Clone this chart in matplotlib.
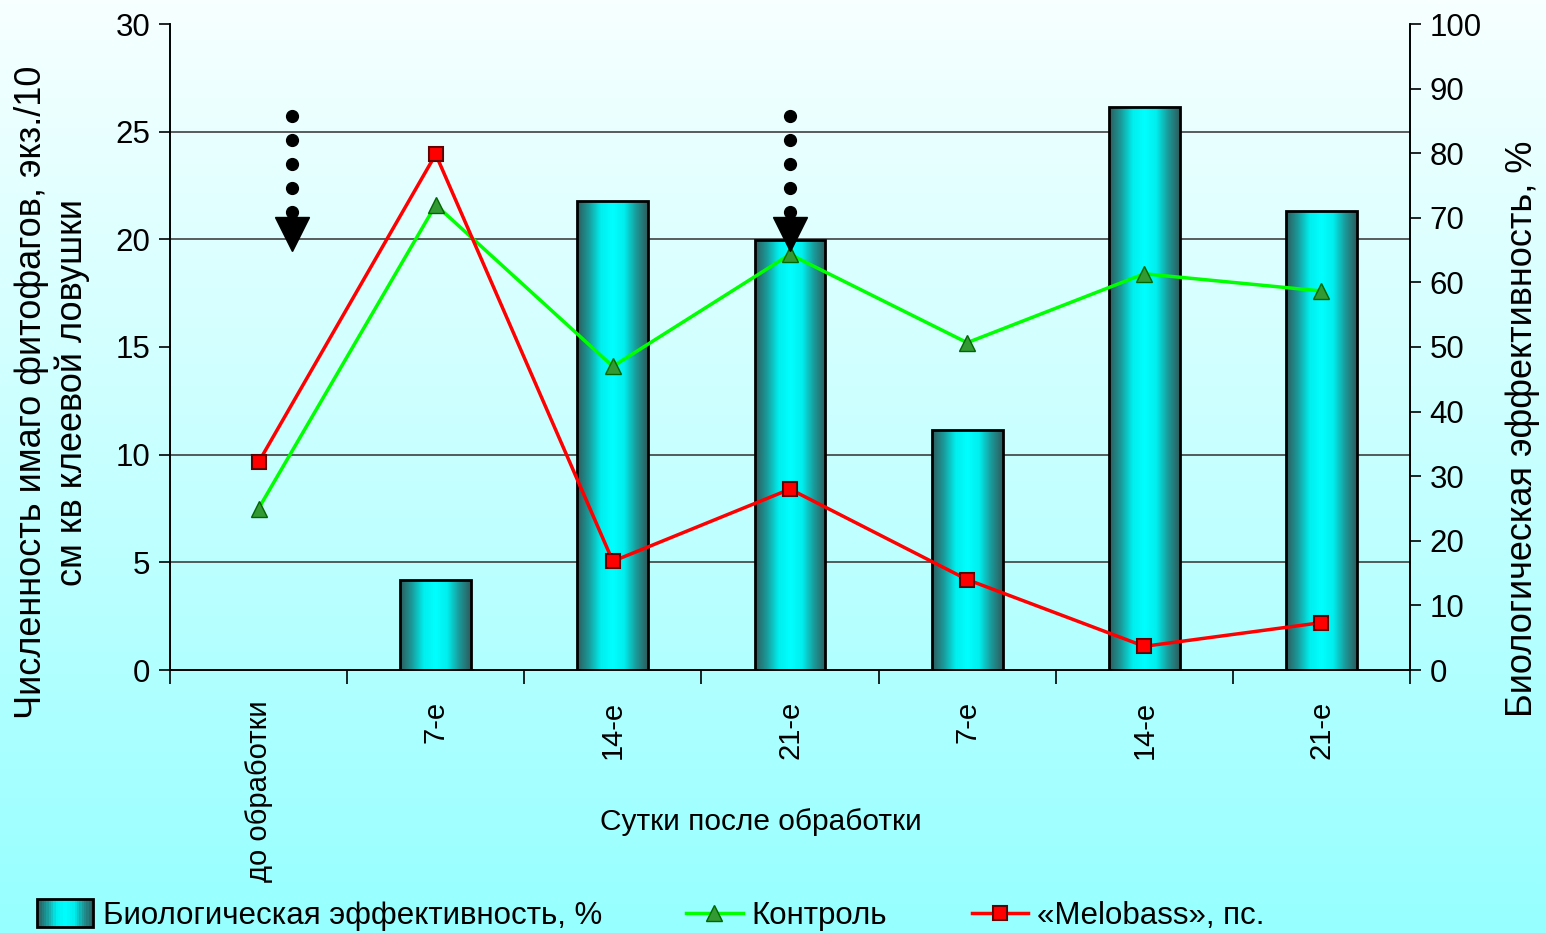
import numpy as np
import matplotlib
matplotlib.use("Agg")
import matplotlib.pyplot as plt
from matplotlib.colors import LinearSegmentedColormap
from matplotlib.ticker import MultipleLocator, FixedLocator
from matplotlib.patches import Rectangle
from matplotlib.lines import Line2D
from matplotlib.legend_handler import HandlerBase

plt.rcParams['font.family'] = ['Liberation Sans', 'DejaVu Sans']

# data
days = ['до обработки', '7-е', '14-е', '21-е', '7-е', '14-е', '21-е']
bio_eff = [0, 13.9, 72.6, 66.6, 37.2, 87.2, 71.1]        # %, right axis
control = [7.5, 21.6, 14.1, 19.3, 15.2, 18.4, 17.6]      # left axis
melobass = [9.65, 23.95, 5.05, 8.4, 4.2, 1.1, 2.2]       # left axis
# treatment arrows (x position, dot heights, head height)
arrow_x = [0.19, 3.0]
arrow_dots = [25.73, 24.62, 23.5, 22.4, 21.28]
arrow_head = 20.23

bar_cmap = LinearSegmentedColormap.from_list(
    'cyl', ['#2e5c5c', '#1a9a9a', '#00eeee', '#00ffff', '#00eeee', '#1a9a9a', '#2e5c5c'])

fig = plt.figure(figsize=(15.46, 9.33), dpi=100)

# background gradient white -> cyan
bg = fig.add_axes([0, 0, 1, 1], zorder=-10)
grad = np.linspace(0, 1, 256).reshape(-1, 1)
bg_cmap = LinearSegmentedColormap.from_list('bg', ['#f7ffff', '#96ffff'])
bg.imshow(grad, aspect='auto', cmap=bg_cmap, extent=[0, 1, 0, 1], origin='upper')
bg.set_axis_off()

ax = fig.add_axes([170 / 1546, 1 - 670 / 933, 1240 / 1546, 646 / 933])
ax2 = ax.twinx()
ax.set_zorder(2)
ax2.set_zorder(1)
ax.patch.set_visible(False)
ax2.patch.set_visible(False)

x = np.arange(len(days))

# bars with cylinder gradient
bars = ax2.bar(x, bio_eff, width=0.4, facecolor='none', edgecolor='black', linewidth=2, zorder=3)
hgrad = np.linspace(0, 1, 256).reshape(1, -1)
for b in bars:
    if b.get_height() <= 0:
        b.set_visible(False)
        continue
    x0 = b.get_x()
    im = ax2.imshow(hgrad, cmap=bar_cmap, aspect='auto',
                    extent=[x0, x0 + b.get_width(), 0, b.get_height()], zorder=2)
    im.set_clip_path(b)

ax2.set_ylim(0, 100)
ax2.set_xlim(-0.5, 6.5)
ax2.yaxis.set_major_locator(MultipleLocator(10))
ax2.yaxis.set_minor_locator(FixedLocator(np.linspace(0, 100, 7)))
ax2.grid(which='minor', axis='y', color='#404040', linewidth=1.2, zorder=0)
ax2.tick_params(axis='y', which='minor', length=0)
ax2.tick_params(axis='y', which='major', length=8, width=1.2, labelsize=22.5, pad=6)

# lines
ctrl_style = dict(color='#00ff00', linewidth=2.5, marker='^', markersize=12,
                  markerfacecolor='#339933', markeredgecolor='#006600')
mel_style = dict(color='#ff0000', linewidth=2.5, marker='s', markersize=10,
                 markerfacecolor='#ff0000', markeredgecolor='#600000', markeredgewidth=1.5)
ax.plot(x, control, zorder=5, **ctrl_style)
ax.plot(x, melobass, zorder=6, **mel_style)

# treatment arrows
for ax_x in arrow_x:
    ax.plot([ax_x] * len(arrow_dots), arrow_dots, 'o', color='black', markersize=8.5, zorder=7)
    ax.plot([ax_x], [arrow_head], 'v', color='black', markersize=25, zorder=7)

ax.set_ylim(0, 30)
ax.set_xlim(-0.5, 6.5)
ax.yaxis.set_major_locator(MultipleLocator(5))
ax.tick_params(axis='y', length=8, width=1.2, labelsize=22.5, pad=6)
ax.set_xticks(x)
ax.set_xticklabels(days, rotation=90, fontsize=21, va='top')
ax.set_xticks(np.arange(-0.5, 7, 1), minor=True)
ax.tick_params(axis='x', which='major', length=0, pad=22)
ax.tick_params(axis='x', which='minor', length=10, width=1.2)
for a in (ax, ax2):
    for s in a.spines.values():
        s.set_linewidth(1.2)
ax.spines['top'].set_visible(False)
ax2.spines['top'].set_visible(False)

fig.text(52 / 1546, 1 - 392 / 933, 'Численность имаго фитофагов, экз./10\nсм кв клеевой ловушки',
         fontsize=26, rotation=90, ha='center', va='center', linespacing=1.2, multialignment='center')
fig.text(1522 / 1546, 1 - 429 / 933, 'Биологическая эффективность, %',
         fontsize=26, rotation=90, ha='center', va='center')
fig.text(761 / 1546, 1 - 822 / 933, 'Сутки после обработки', fontsize=21.5, ha='center', va='center')


class GradientHandler(HandlerBase):
    def create_artists(self, legend, orig_handle, xdescent, ydescent, width, height, fontsize, trans):
        arts = []
        n = 24
        w = width / n
        for i in range(n):
            r = Rectangle((-xdescent + i * w, -ydescent - 0.15 * height), w, height * 1.3,
                          facecolor=bar_cmap(i / (n - 1)), edgecolor='none', transform=trans)
            arts.append(r)
        arts.append(Rectangle((-xdescent, -ydescent - 0.15 * height), width, height * 1.3,
                              facecolor='none', edgecolor='black', linewidth=2, transform=trans))
        return arts


h_bar = Rectangle((0, 0), 1, 1)
h_ctrl = Line2D([], [], **ctrl_style)
h_mel = Line2D([], [], **mel_style)
fig.legend([h_bar, h_ctrl, h_mel],
           ['Биологическая эффективность, %', 'Контроль', '«Melobass», пс.'],
           handler_map={Rectangle: GradientHandler()},
           loc='center left', bbox_to_anchor=(37 / 1546, 1 - 916 / 933), ncol=3,
           frameon=False, fontsize=22.5, handlelength=1.8, handletextpad=0.3,
           columnspacing=2.7, borderaxespad=0, borderpad=0)

fig.savefig('out.png', dpi=100)
